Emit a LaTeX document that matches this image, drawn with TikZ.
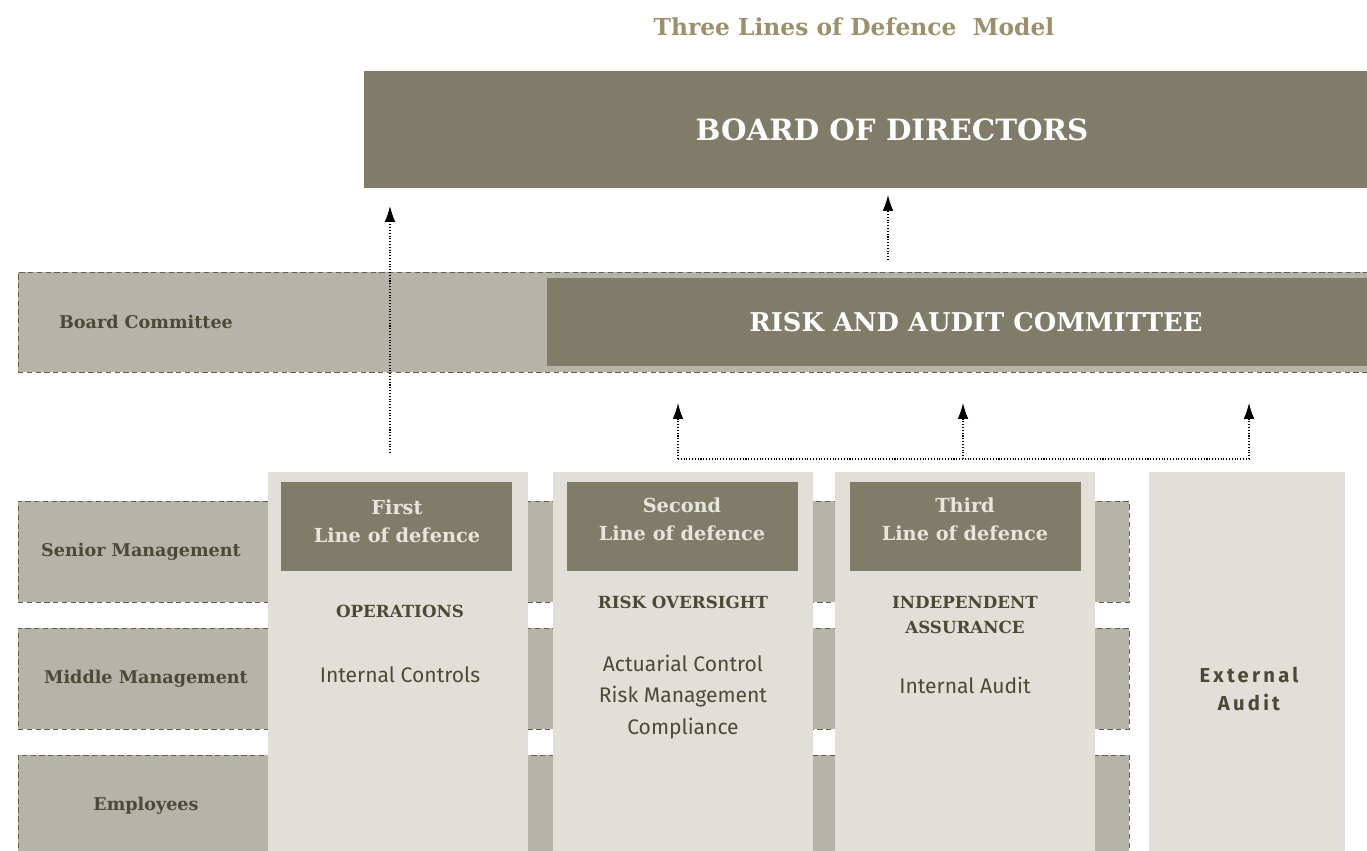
\documentclass[tikz,border=0pt]{standalone}
\usepackage{fontspec}
\setmainfont{DejaVu Serif}
\setsansfont{Fira Sans}
\usetikzlibrary{fit,arrows.meta}

\definecolor{boxdark}{RGB}{128,124,105}
\definecolor{bandgray}{RGB}{182,180,168}
\definecolor{colbg}{RGB}{226,223,216}
\definecolor{titlecol}{RGB}{155,143,108}
\definecolor{textdark}{RGB}{75,74,54}
\definecolor{dashgray}{RGB}{95,95,82}
\definecolor{headtext}{RGB}{232,229,220}

\tikzset{
  dark/.style={fill=boxdark, inner sep=0pt},
  band/.style={fill=bandgray, draw=dashgray, dash pattern=on 3pt off 2pt, line width=0.5pt, inner sep=0pt},
  column/.style={fill=colbg, inner sep=0pt},
  bigcaps/.style={text=white, font=\bfseries\fontsize{#1}{20}\selectfont},
  rowlabel/.style={text=textdark, font=\bfseries\fontsize{10}{12}\selectfont},
  headlabel/.style={text=headtext, align=center, font=\bfseries\fontsize{11}{16}\selectfont},
  dutylabel/.style={text=textdark, align=center, font=\bfseries\fontsize{9.5}{14}\selectfont},
  itemlabel/.style={text=textdark, align=center, font=\sffamily\fontsize{12}{18}\selectfont},
  flow/.style={densely dotted, line width=0.6pt, -{Latex[length=9pt,width=6pt]}},
  link/.style={densely dotted, line width=0.6pt}
}

\begin{document}
\begin{tikzpicture}[x=0.02cm, y=-0.02cm]
    \useasboundingbox (0,0) rectangle (1367,850);

    % title
    \node[text=titlecol, font=\bfseries\fontsize{13.3}{15}\selectfont] (title) at (854,27) {Three Lines of Defence~~Model};

    % board and committee
    \node[dark, fit={(364,71) (1420,188)}] (board) {};
    \node[bigcaps=16.7] (boardlbl) at (board.center) {BOARD OF DIRECTORS};
    \node[band, fit={(18,272) (1390,372)}] (committee) {};
    \node[rowlabel] (committeelbl) at (146,322) {Board Committee};
    \node[dark, fit={(547,278) (1405,366)}] (rac) {};
    \node[bigcaps=14.7] (raclbl) at (rac.center) {RISK AND AUDIT COMMITTEE};

    % management levels
    \node[band, fit={(18,501) (1129,602)}] (senior) {};
    \node[band, fit={(18,628) (1129,729)}] (middle) {};
    \node[band, fit={(18,755) (1129,870)}] (staff) {};
    \node[rowlabel] (seniorlbl) at (141,552) {Senior Management};
    \node[rowlabel] (middlelbl) at (146,679) {Middle Management};
    \node[rowlabel] (stafflbl) at (146,806) {Employees};

    % the three lines and external audit
    \node[column, fit={(268,472) (528,870)}] (first) {};
    \node[column, fit={(553,472) (813,870)}] (second) {};
    \node[column, fit={(835,472) (1095,870)}] (third) {};
    \node[column, fit={(1149,472) (1345,870)}] (external) {};

    \node[dark, fit={(281,482) (512,571)}] (firsthead) {};
    \node[dark, fit={(567,482) (798,571)}] (secondhead) {};
    \node[dark, fit={(850,482) (1081,571)}] (thirdhead) {};
    \node[headlabel] (firstlbl) at (397,521) {First\\Line of defence};
    \node[headlabel] (secondlbl) at (682,519) {Second\\Line of defence};
    \node[headlabel] (thirdlbl) at (965,519) {Third\\Line of defence};

    \node[dutylabel] (ops) at (400,611) {OPERATIONS};
    \node[itemlabel] (opsitems) at (400,675) {Internal Controls};
    \node[dutylabel] (oversight) at (683,602) {RISK OVERSIGHT};
    \node[itemlabel] (oversightitems) at (683,697) {Actuarial Control\\Risk Management\\Compliance};
    \node[dutylabel] (assurance) at (965,615) {INDEPENDENT\\ASSURANCE};
    \node[itemlabel] (assuranceitems) at (965,685) {Internal Audit};
    \node[text=textdark, align=center, font=\sffamily\bfseries\fontsize{11.5}{16}\selectfont\addfontfeatures{LetterSpace=16}] (extlbl) at (1249,689) {External\\Audit};

    % reporting lines
    \coordinate (opsfoot) at (390,453);
    \coordinate (opstip) at (390,206);
    \coordinate (racfoot) at (888,260);
    \coordinate (ractip) at (888,195);
    \coordinate (jsecond) at (678,459);
    \coordinate (jthird) at (963,459);
    \coordinate (jext) at (1249,459);
    \draw[flow] (opsfoot) -- (opstip);
    \draw[flow] (racfoot) -- (ractip);
    \draw[link] (jsecond) -- (jthird) -- (jext);
    \foreach \j in {jsecond,jthird,jext}
        \draw[flow] (\j) -- ++(0,-56);
\end{tikzpicture}
\end{document}
